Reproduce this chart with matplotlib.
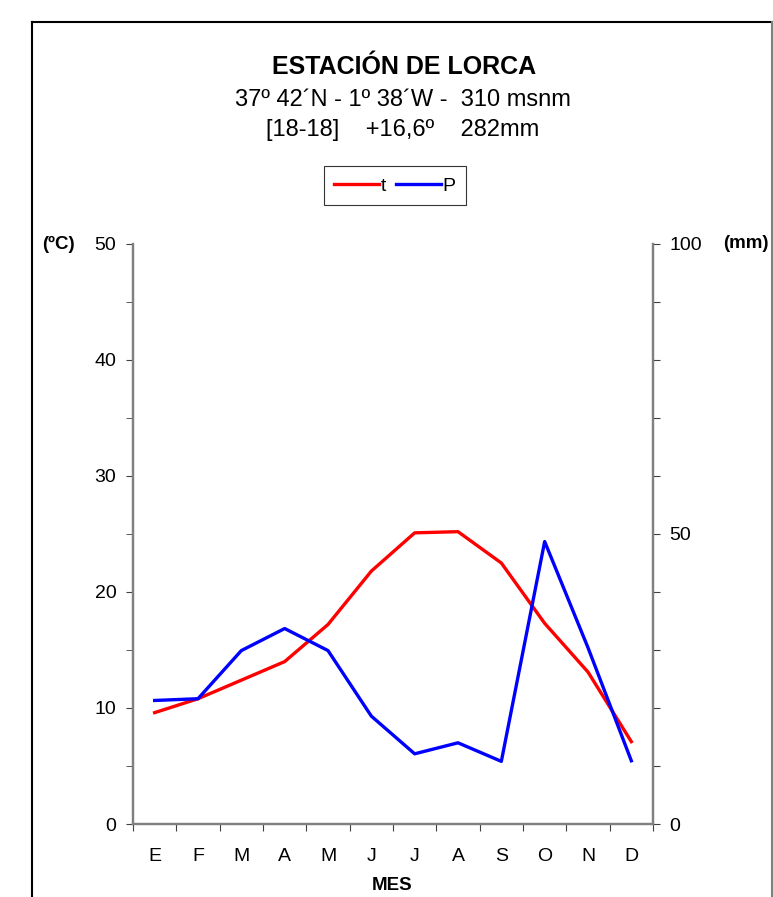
import matplotlib
matplotlib.use('Agg')
import matplotlib.pyplot as plt
from matplotlib.lines import Line2D

plt.rcParams['font.family'] = ['Liberation Sans', 'DejaVu Sans']

# Datos climáticos - Lorca
meses = ['E', 'F', 'M', 'A', 'M', 'J', 'J', 'A', 'S', 'O', 'N', 'D']
temperatura = [9.6, 10.8, 12.4, 14.0, 17.2, 21.8, 25.1, 25.2, 22.5, 17.3, 13.1, 7.1]
precipitacion = [21.3, 21.6, 29.9, 33.7, 29.9, 18.6, 12.1, 14.0, 10.8, 48.7, 30.4, 10.9]

fig = plt.figure(figsize=(7.73, 8.97), dpi=100)
ax = fig.add_axes([133 / 773, 73 / 897, 520 / 773, 580 / 897])
ax2 = ax.twinx()

x = [i + 0.5 for i in range(len(meses))]
l1, = ax.plot(x, temperatura, color='#ff0000', lw=2.4, label='t')
l2, = ax2.plot(x, precipitacion, color='#0000ff', lw=2.4, label='P')

ax.set_xlim(0, 12)
ax.set_ylim(0, 50)
ax2.set_ylim(0, 100)

gris = '#808080'
for a in (ax, ax2):
    for s in a.spines.values():
        s.set_color(gris)
        s.set_linewidth(1.6)
    a.spines['top'].set_visible(False)

# eje x
ax.set_xticks(range(13))
ax.set_xticklabels([])
ax.set_xticks(x, minor=True)
ax.set_xticklabels(meses, minor=True, fontsize=14)
ax.tick_params(axis='x', which='major', direction='out', length=5, color='#404040')
ax.tick_params(axis='x', which='minor', length=0, pad=17)

# eje izquierdo
ax.set_yticks(range(0, 51, 10))
ax.set_yticks(range(5, 50, 10), minor=True)
ax.tick_params(axis='y', which='both', direction='out', length=5, color='#404040',
               labelsize=14, pad=7)

# eje derecho
ax2.set_yticks(range(0, 101, 10))
ax2.set_yticklabels([str(v) if v % 50 == 0 else '' for v in range(0, 101, 10)])
ax2.tick_params(axis='y', direction='out', length=5, color='#404040',
                labelsize=14, pad=7)

fig.text(58 / 773, 1 - 244 / 897, '(ºC)', fontsize=13.5, fontweight='bold',
         ha='center', va='center')
fig.text(746 / 773, 1 - 244 / 897, '(mm)', fontsize=13.5, fontweight='bold',
         ha='center', va='center')
fig.text(392 / 773, 1 - 885 / 897, 'MES', fontsize=13.5, fontweight='bold',
         ha='center', va='center')

# títulos
fig.text(404 / 773, 1 - 67 / 897, 'ESTACIÓN DE LORCA', fontsize=18,
         fontweight='bold', ha='center', va='center')
fig.text(403 / 773, 1 - 100 / 897, '37º 42´N - 1º 38´W -  310 msnm', fontsize=17,
         ha='center', va='center')
fig.text(403 / 773, 1 - 130 / 897, '[18-18]    +16,6º    282mm', fontsize=17,
         ha='center', va='center')

leg = fig.legend([l1, l2], ['t', 'P'], loc='center', ncol=2,
                 bbox_to_anchor=(395 / 773, 1 - 186 / 897), fontsize=14,
                 frameon=True, fancybox=False, edgecolor='black',
                 handlelength=2.3, handletextpad=0.1, columnspacing=0.5,
                 borderpad=0.55)
leg.get_frame().set_linewidth(0.8)

# marco exterior
fig.add_artist(Line2D([32 / 773, 32 / 773], [0, 1 - 22 / 897], color='black', lw=1.5))
fig.add_artist(Line2D([32 / 773, 772 / 773], [1 - 22 / 897, 1 - 22 / 897], color='black', lw=1.5))
fig.add_artist(Line2D([772 / 773, 772 / 773], [0, 1 - 22 / 897], color=gris, lw=1.5))

plt.savefig('out.png', dpi=100)
